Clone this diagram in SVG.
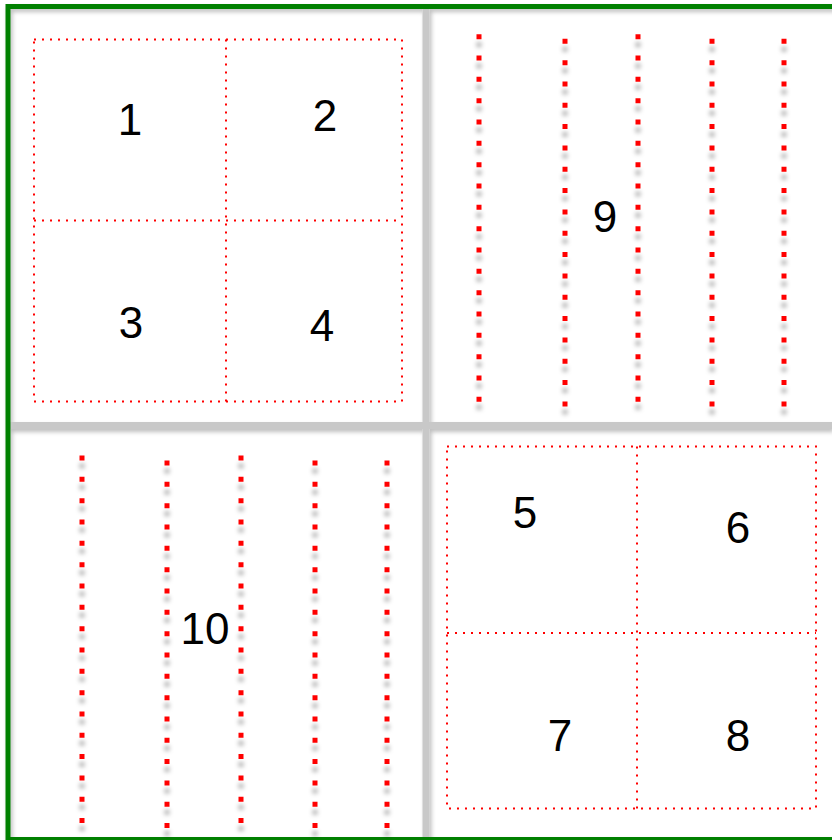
<svg xmlns="http://www.w3.org/2000/svg" width="832" height="840" viewBox="0 0 832 840">
<defs>
<filter id="sh" x="-20%" y="-20%" width="140%" height="140%">
<feGaussianBlur in="SourceAlpha" stdDeviation="2"/>
<feOffset dx="2" dy="3" result="b"/>
<feFlood flood-color="#000" flood-opacity="0.25"/>
<feComposite in2="b" operator="in" result="s"/>
<feMerge><feMergeNode in="s"/><feMergeNode in="SourceGraphic"/></feMerge>
</filter>
<filter id="dsh" x="-200%" y="-5%" width="500%" height="110%">
<feGaussianBlur in="SourceAlpha" stdDeviation="2"/>
<feOffset dx="0" dy="8" result="b"/>
<feFlood flood-color="#000" flood-opacity="0.3"/>
<feComposite in2="b" operator="in" result="s"/>
<feMerge><feMergeNode in="s"/><feMergeNode in="SourceGraphic"/></feMerge>
</filter>
</defs>
<style>
.box{fill:none;stroke:#ff0000;stroke-width:2;stroke-dasharray:2 6}
.vl{stroke:#ff0000;stroke-width:5;stroke-dasharray:5 16.33;fill:none}
.div{stroke:#c8c8c8;stroke-width:7;fill:none}
.t{font-family:"Liberation Sans",Arial,sans-serif;font-size:44px;fill:#000;text-anchor:middle}
</style>
<rect width="832" height="840" fill="#fff"/>
<g id="frame" filter="url(#sh)">
<line class="div" x1="426" y1="9" x2="426" y2="840"/>
<line class="div" x1="10" y1="425.5" x2="832" y2="425.5"/>
<rect x="8" y="6.5" width="830" height="833" fill="none" stroke="#008000" stroke-width="5"/>
</g>
<g id="quad-tl">
<rect class="box" x="34" y="39.5" width="368" height="362"/>
<line class="box" x1="226" y1="39.5" x2="226" y2="401.5"/>
<line class="box" x1="34" y1="220.5" x2="402" y2="220.5"/>
<text class="t" x="130" y="135">1</text>
<text class="t" x="325" y="131">2</text>
<text class="t" x="131" y="338">3</text>
<text class="t" x="322" y="341">4</text>
</g>
<g id="quad-tr" filter="url(#dsh)">
<line class="vl" x1="479" y1="34.2" x2="479" y2="402"/>
<line class="vl" x1="565" y1="38.8" x2="565" y2="407"/>
<line class="vl" x1="638" y1="34.2" x2="638" y2="402"/>
<line class="vl" x1="712" y1="38.8" x2="712" y2="407"/>
<line class="vl" x1="784" y1="38.8" x2="784" y2="407"/>
</g>
<text class="t" x="605" y="232">9</text>
<g id="quad-bl" filter="url(#dsh)">
<line class="vl" x1="82" y1="455.5" x2="82" y2="824"/>
<line class="vl" x1="167" y1="460.5" x2="167" y2="829"/>
<line class="vl" x1="241" y1="455.5" x2="241" y2="824"/>
<line class="vl" x1="315" y1="460.5" x2="315" y2="829"/>
<line class="vl" x1="387" y1="460.5" x2="387" y2="829"/>
</g>
<text class="t" x="205" y="644">10</text>
<g id="quad-br">
<rect class="box" x="447" y="446.5" width="369" height="362"/>
<line class="box" x1="637" y1="446.5" x2="637" y2="808.5"/>
<line class="box" x1="447" y1="633" x2="816" y2="633"/>
<text class="t" x="525" y="528">5</text>
<text class="t" x="738" y="543">6</text>
<text class="t" x="560" y="751">7</text>
<text class="t" x="738" y="751">8</text>
</g>
</svg>
